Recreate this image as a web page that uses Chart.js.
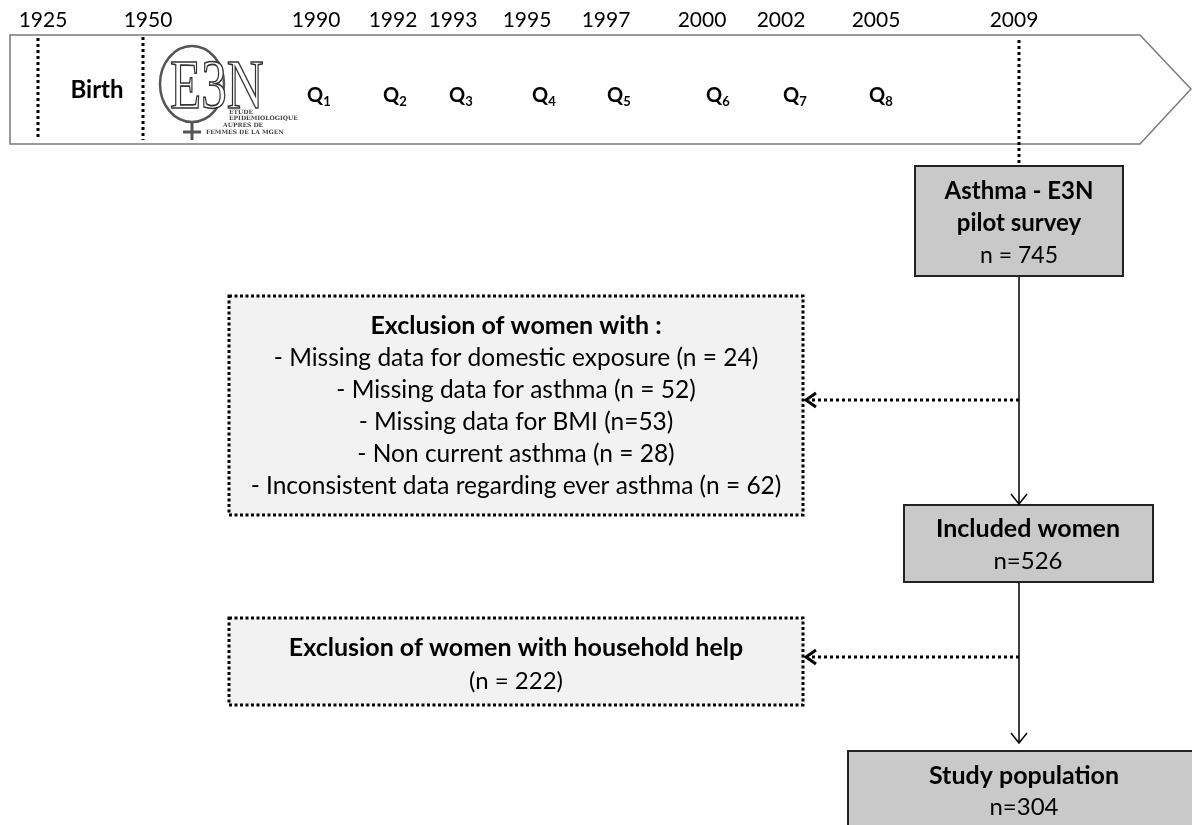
<!DOCTYPE html>
<html>
<head>
<meta charset="utf-8">
<script src="https://cdn.jsdelivr.net/npm/chart.js@4.4.1/dist/chart.umd.min.js"></script>
<style>
  html, body { margin: 0; padding: 0; background: #fff; }
  #wrap { width: 1192px; height: 825px; }
</style>
</head>
<body>
<div id="wrap"><canvas id="flowChart"></canvas></div>
<script>
// timeline data
const years = ['1925', '1950', '1990', '1992', '1993', '1995', '1997', '2000', '2002', '2005', '2009'];
const questionnaires = [1, 2, 3, 4, 5, 6, 7, 8];
const logoLines = ['ETUDE', 'EPIDEMIOLOGIQUE', 'AUPRES DE', 'FEMMES DE LA MGEN'];

// flow counts
const surveyN = 745;
const exclusionReasons = ['Missing data for domestic exposure', 'Missing data for asthma', 'Missing data for BMI', 'Non current asthma', 'Inconsistent data regarding ever asthma'];
const exclusionCounts = [24, 52, 53, 28, 62];
const exclusionSep = [' = ', ' = ', '=', ' = ', ' = '];
const includedN = 526;
const householdN = 222;
const studyN = 304;

// layout (pixel positions on a 1192 x 825 frame)
const yearX = [43, 148, 316, 393, 453, 527, 606, 702, 781, 876, 1014];
const qX = [307, 383, 449, 532, 607, 706, 783, 869];
const FONT = 'Lato, "Open Sans", sans-serif';

function txt(ctx, s, x, y, size, bold, align) {
    ctx.font = (bold ? 'bold ' : '') + size + 'px ' + FONT;
    ctx.textAlign = align || 'center';
    ctx.textBaseline = 'middle';
    ctx.fillStyle = '#000';
    ctx.fillText(s, x, y);
}

function openArrow(ctx, x, y, dir, lw) {
    ctx.save();
    ctx.setLineDash([]);
    ctx.lineWidth = lw;
    ctx.strokeStyle = '#000';
    ctx.beginPath();
    if (dir === 'down') {
        ctx.moveTo(x - 8, y - 10); ctx.lineTo(x, y); ctx.lineTo(x + 8, y - 10);
    } else {
        ctx.moveTo(x + 10, y - 7); ctx.lineTo(x, y); ctx.lineTo(x + 10, y + 7);
    }
    ctx.stroke();
    ctx.restore();
}

const flowPlugin = {
    id: 'flow',
    afterDraw(chart) {
        const ctx = chart.ctx;
        const sx = chart.scales.x, sy = chart.scales.y;
        const X = v => sx.getPixelForValue(v);
        const Y = v => sy.getPixelForValue(v);
        ctx.save();

        // timeline band
        ctx.beginPath();
        ctx.moveTo(X(10), Y(35)); ctx.lineTo(X(1140), Y(35)); ctx.lineTo(X(1191), Y(89));
        ctx.lineTo(X(1140), Y(144)); ctx.lineTo(X(10), Y(144)); ctx.closePath();
        ctx.fillStyle = '#fff'; ctx.fill();
        ctx.lineWidth = 1.5; ctx.strokeStyle = '#7a7a7a'; ctx.stroke();

        // dotted markers
        ctx.strokeStyle = '#000'; ctx.lineWidth = 3; ctx.setLineDash([3, 3]);
        [[38, 38, 140], [143, 37, 140], [1019, 40, 165]].forEach(m => {
            ctx.beginPath(); ctx.moveTo(X(m[0]), Y(m[1])); ctx.lineTo(X(m[0]), Y(m[2])); ctx.stroke();
        });
        ctx.setLineDash([]);

        years.forEach((yr, i) => txt(ctx, yr, X(yearX[i]), Y(20), 21, false));
        txt(ctx, 'Birth', X(97), Y(90), 24, true);

        questionnaires.forEach((q, i) => {
            ctx.font = 'bold 20px ' + FONT;
            ctx.textAlign = 'left'; ctx.textBaseline = 'alphabetic'; ctx.fillStyle = '#000';
            ctx.fillText('Q', X(qX[i]), Y(102));
            const w = ctx.measureText('Q').width;
            ctx.font = 'bold 13px ' + FONT;
            ctx.fillText(String(q), X(qX[i]) + w, Y(106));
        });

        // E3N logo
        ctx.strokeStyle = '#555'; ctx.lineWidth = 2.5;
        ctx.beginPath(); ctx.ellipse(X(192), Y(84), 32, 38, 0, 0, Math.PI * 2); ctx.stroke();
        ctx.beginPath(); ctx.moveTo(X(192), Y(122)); ctx.lineTo(X(192), Y(140));
        ctx.moveTo(X(183), Y(132)); ctx.lineTo(X(201), Y(132)); ctx.lineWidth = 3; ctx.stroke();
        ctx.save();
        ctx.translate(X(170), Y(108));
        ctx.scale(0.85, 1.15);
        ctx.font = '60px "Liberation Serif", "DejaVu Serif", serif';
        ctx.textAlign = 'left'; ctx.textBaseline = 'alphabetic';
        ctx.fillStyle = '#fff'; ctx.fillText('E3N', 0, 0);
        ctx.lineWidth = 1.4; ctx.strokeStyle = '#333'; ctx.strokeText('E3N', 0, 0);
        ctx.restore();
        ctx.fillStyle = '#444'; ctx.font = 'bold 6px "DejaVu Serif", serif';
        ctx.textAlign = 'left'; ctx.textBaseline = 'alphabetic';
        [[229, 114], [229, 120], [223, 127], [206, 134]].forEach((p, i) => ctx.fillText(logoLines[i], X(p[0]), Y(p[1])));

        // solid boxes
        function box(x0, y0, x1, y1) {
            ctx.fillStyle = '#c9c9c9';
            ctx.fillRect(X(x0), Y(y0), X(x1) - X(x0), Y(y1) - Y(y0));
            ctx.lineWidth = 2; ctx.strokeStyle = '#222';
            ctx.strokeRect(X(x0), Y(y0), X(x1) - X(x0), Y(y1) - Y(y0));
        }
        function dotBox(x0, y0, x1, y1) {
            ctx.fillStyle = '#f2f2f2';
            ctx.fillRect(X(x0), Y(y0), X(x1) - X(x0), Y(y1) - Y(y0));
            ctx.lineWidth = 3; ctx.strokeStyle = '#000'; ctx.setLineDash([3, 2.5]);
            ctx.strokeRect(X(x0), Y(y0), X(x1) - X(x0), Y(y1) - Y(y0));
            ctx.setLineDash([]);
        }

        box(915, 166, 1123, 276);
        txt(ctx, 'Asthma - E3N', X(1019), Y(191), 24, true);
        txt(ctx, 'pilot survey', X(1019), Y(223), 24, true);
        txt(ctx, 'n = ' + surveyN, X(1019), Y(256), 23, false);

        box(904, 505, 1153, 582);
        txt(ctx, 'Included women', X(1028), Y(529), 25, true);
        txt(ctx, 'n=' + includedN, X(1028), Y(561), 24, false);

        box(848, 751, 1200, 830);
        txt(ctx, 'Study population', X(1024), Y(776), 25, true);
        txt(ctx, 'n=' + studyN, X(1024), Y(807), 24, false);

        dotBox(229, 296, 803, 515);
        txt(ctx, 'Exclusion of women with :', X(516), Y(326), 25, true);
        exclusionReasons.forEach((r, i) => {
            txt(ctx, '- ' + r + ' (n' + exclusionSep[i] + exclusionCounts[i] + ')', X(516), Y(358 + i * 32), 24.5, false);
        });

        dotBox(229, 618, 803, 705);
        txt(ctx, 'Exclusion of women with household help', X(516), Y(648), 25, true);
        txt(ctx, '(n = ' + householdN + ')', X(516), Y(681), 24, false);

        // connectors
        ctx.strokeStyle = '#000'; ctx.lineWidth = 1.5;
        ctx.beginPath();
        ctx.moveTo(X(1019), Y(277)); ctx.lineTo(X(1019), Y(504));
        ctx.moveTo(X(1019), Y(583)); ctx.lineTo(X(1019), Y(743));
        ctx.stroke();
        openArrow(ctx, X(1019), Y(504), 'down', 1.5);
        openArrow(ctx, X(1019), Y(743), 'down', 1.5);

        ctx.lineWidth = 3; ctx.setLineDash([3, 3]);
        ctx.beginPath();
        ctx.moveTo(X(1019), Y(400)); ctx.lineTo(X(808), Y(400));
        ctx.moveTo(X(1019), Y(657)); ctx.lineTo(X(808), Y(657));
        ctx.stroke();
        ctx.setLineDash([]);
        openArrow(ctx, X(806), Y(400), 'left', 3);
        openArrow(ctx, X(806), Y(657), 'left', 3);

        ctx.restore();
    }
};

new Chart(document.getElementById('flowChart'), {
    type: 'scatter',
    data: { datasets: [{ data: [], pointRadius: 0 }] },
    options: {
        responsive: true,
        maintainAspectRatio: false,
        animation: false,
        layout: { padding: 0 },
        plugins: { legend: { display: false }, tooltip: { enabled: false } },
        scales: {
            x: { type: 'linear', min: 0, max: 1192, display: false },
            y: { type: 'linear', min: 0, max: 825, reverse: true, display: false }
        }
    },
    plugins: [flowPlugin]
});
</script>
</body>
</html>
